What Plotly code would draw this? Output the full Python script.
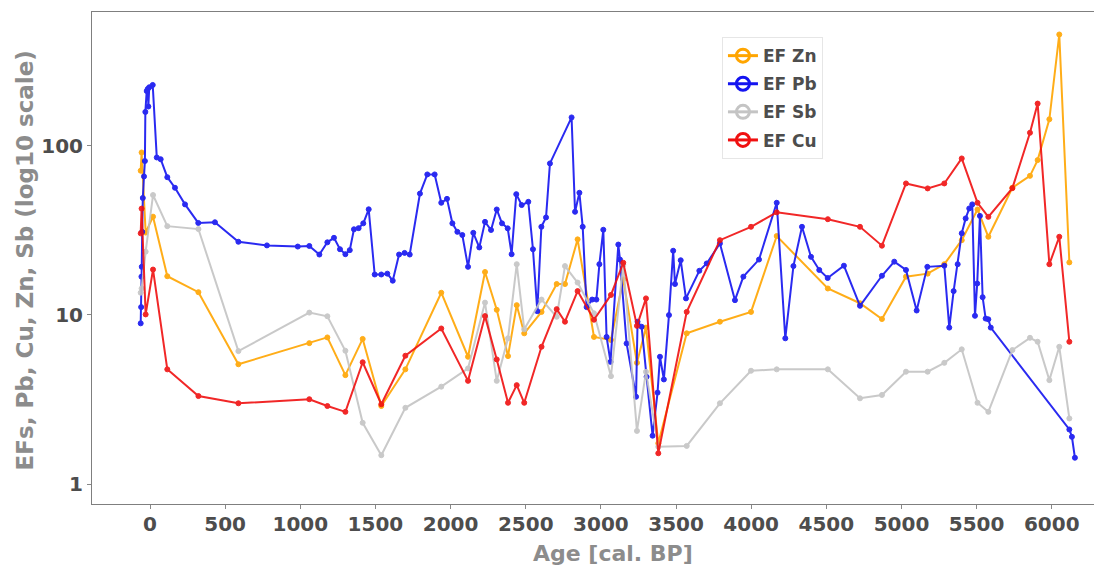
import plotly.graph_objects as go

# ---------------- data ----------------
pb_age = [-62, -59, -57, -55, -52, -48, -40, -34, -31, -22, -15, -11, -5, 18, 45, 71, 115, 166, 233, 321,
          432, 588, 778, 983, 1060, 1127, 1180, 1224, 1264, 1300, 1329, 1357, 1388, 1419, 1455, 1495, 1539,
          1579, 1615, 1657, 1694, 1728, 1796, 1845, 1894, 1938, 1976, 2012, 2045, 2078, 2116, 2151, 2191,
          2229, 2269, 2307, 2342, 2380, 2406, 2437, 2473, 2517, 2548, 2577, 2604, 2635, 2661, 2805, 2828,
          2857, 2879, 2905, 2942, 2970, 2990, 3016, 3038, 3064, 3116, 3127, 3171, 3234, 3244, 3271, 3304,
          3344, 3377, 3393, 3419, 3453, 3481, 3493, 3531, 3566, 3655, 3704, 3792, 3892, 3948, 4052, 4170,
          4227, 4281, 4338, 4398, 4453, 4509, 4617, 4724, 4870, 4952, 5030, 5101, 5172, 5285, 5318, 5347,
          5374, 5401, 5427, 5451, 5471, 5489, 5504, 5522, 5540, 5560, 5578, 5594, 6117, 6134, 6154]
pb_val = [8.9, 11.1, 16.8, 19.2, 30.9, 49, 65.7, 81, 158, 210, 216, 170, 221, 228, 85, 83, 65, 56.3, 44.9, 34.9,
          35.2, 27, 25.7, 25.3, 25.5, 22.7, 26.8, 28.5, 24.4, 22.8, 24.1, 32, 32.5, 34.7, 42, 17.3, 17.3,
          17.5, 15.9, 22.7, 23.2, 22.7, 52, 67.5, 67.5, 45.9, 48.4, 34.7, 30.9, 29.6, 19.2, 30.5, 25,
          35.4, 31.7, 41.9, 34.7, 32.4, 22.8, 51.6, 44.5, 46.5, 24.4, 10.5, 33.1, 37.6, 78.4, 146.6, 40.6,
          52.6, 33.1, 11.1, 12.3, 12.3, 19.9, 31.8, 7.4, 5.27, 26, 21.2, 6.77, 3.28, 9.1, 8.5, 4.3,
          1.93, 3.47, 5.65, 4.15, 9.96, 23.9, 15.2, 21, 12.5, 18.2, 20.1, 26.4, 12.2, 16.8, 21.2, 45.9,
          7.26, 19.4, 33.1, 22, 18.4, 16.5, 19.5, 11.3, 17, 20.6, 18.4, 10.6, 19.2, 19.5, 8.4, 13.8,
          19.9, 30.3, 37.1, 42.5, 44.9, 9.86, 15.3, 38.4, 12.7, 9.5, 9.4, 8.4, 2.1, 1.9, 1.43]

age = [-62, -56, -29, 20, 115, 322, 588, 1060, 1180, 1300, 1415, 1539, 1699, 1938, 2116, 2229, 2307, 2382,
       2440, 2490, 2605, 2706, 2761, 2845, 2954, 3067, 3149, 3240, 3300, 3382, 3571, 3792, 3999, 4170,
       4510, 4724, 4870, 5030, 5174, 5285, 5401, 5506, 5578, 5738, 5855, 5906, 5984, 6050, 6117]
zn_val = [71, 91, 30.6, 38, 16.9, 13.6, 5.1, 6.8, 7.35, 4.4, 7.2, 2.89, 4.76, 13.5, 5.65, 17.9, 10.7, 5.7,
          11.4, 7.77, 10.4, 15.2, 15.2, 27.9, 7.4, 7.1, 16.2, 5.2, 8.4, 1.74, 7.77, 9.1, 10.4, 29.2,
          14.3, 11.7, 9.44, 16.8, 17.5, 19.9, 27.6, 41.9, 28.9, 56.3, 66.2, 82, 143, 453, 20.4]
cu_val = [30.3, 42.4, 10.05, 18.5, 4.76, 3.31, 3.0, 3.17, 2.89, 2.67, 5.24, 2.96, 5.73, 8.3, 4.07, 9.82, 5.45, 3.02,
          3.84, 3.02, 6.47, 10.8, 9.1, 13.8, 9.35, 13.1, 20.3, 8.6, 12.5, 1.52, 10.4, 27.6, 33.1, 40.3,
          36.7, 33.1, 25.6, 59.7, 55.8, 59.7, 83.9, 45.9, 37.9, 56, 119, 177, 19.9, 28.9, 6.93]
sb_val = [13.5, 14.3, 23.6, 51, 33.4, 32.1, 6.1, 10.3, 9.8, 6.13, 2.3, 1.48, 2.82, 3.76, 4.82, 11.8, 4.07, 7.26,
          19.9, 8.2, 12.3, 9.73, 19.4, 15.5, 10.2, 4.34, 19.7, 2.06, 4.6, 1.66, 1.68, 3.0, 4.67, 4.76,
          4.76, 3.21, 3.36, 4.61, 4.61, 5.2, 6.25, 3.02, 2.67, 6.19, 7.31, 6.93, 4.11, 6.47, 2.44]

x_ticks = [0, 500, 1000, 1500, 2000, 2500, 3000, 3500, 4000, 4500, 5000, 5500, 6000]
y_ticks = [1, 10, 100]
y_ticktext = ["1", "10", "100"]

series_names = ["EF Zn", "EF Pb", "EF Sb", "EF Cu"]
series_colors = ["#FFA500", "#1414F0", "#C4C4C4", "#F01010"]

# ---------------- figure ----------------
fig = go.Figure()
series = [(age, zn_val), (pb_age, pb_val), (age, sb_val), (age, cu_val)]
for (xs, ys), name, col in zip(series, series_names, series_colors):
    fig.add_trace(go.Scatter(
        x=xs, y=ys, mode="lines+markers", name=name, showlegend=False,
        line=dict(color=col, width=2), opacity=0.9,
        marker=dict(symbol="circle", size=5, color=col, line=dict(color=col, width=1)),
    ))
# legend-only entries (bigger open circles as in the reference key)
for name, col in zip(series_names, series_colors):
    fig.add_trace(go.Scatter(
        x=[None], y=[None], mode="lines+markers", name=name, showlegend=True,
        legendgroup=name,
        line=dict(color=col, width=3),
        marker=dict(symbol="circle-open", size=13, color=col, line=dict(color=col, width=3)),
    ))

tickfont = dict(family="DejaVu Sans", size=20, color="#4D4D4D", weight="bold")
xtitlefont = dict(family="DejaVu Sans", size=22, color="#8C8C8C", weight="bold")
ytitlefont = dict(family="DejaVu Sans", size=23, color="#8C8C8C", weight="bold")

fig.update_layout(
    width=1094, height=568, autosize=False,
    margin=dict(l=92, r=0, t=12, b=64),
    paper_bgcolor="white", plot_bgcolor="white",
    xaxis=dict(range=[-386, 6281], tickvals=x_ticks, ticks="outside", ticklen=4, tickwidth=1,
               tickcolor="#888888", tickfont=tickfont, ticklabelstandoff=-2,
               showline=True, mirror=True,
               linecolor="#7F7F7F", linewidth=1, showgrid=False, zeroline=False),
    yaxis=dict(type="log", range=[-0.118, 2.789], tickvals=y_ticks, ticktext=y_ticktext,
               ticks="outside", ticklen=4, tickwidth=1, tickcolor="#888888", tickfont=tickfont,
               showline=True, mirror=False, linecolor="#7F7F7F", linewidth=1,
               showgrid=False, zeroline=False),
    legend=dict(x=0.6287, y=0.949, xanchor="left", yanchor="top",
                bgcolor="white", bordercolor="#E6E6E6", borderwidth=1,
                font=dict(family="DejaVu Sans", size=17, color="#4D4D4D", weight="bold"),
                tracegroupgap=3, itemwidth=30),
    annotations=[
        dict(text="Age [cal. BP]", xref="paper", yref="paper", x=0.520, y=-0.1016,
             xanchor="center", yanchor="middle", showarrow=False, font=xtitlefont),
        dict(text="EFs, Pb, Cu, Zn, Sb (log10 scale)", xref="paper", yref="paper",
             x=-0.0669, y=0.495, xanchor="center", yanchor="middle", textangle=-90,
             showarrow=False, font=ytitlefont),
    ],
)

fig.write_html("out.html", config={"displayModeBar": False},
               post_script="document.body.style.margin='0';")
